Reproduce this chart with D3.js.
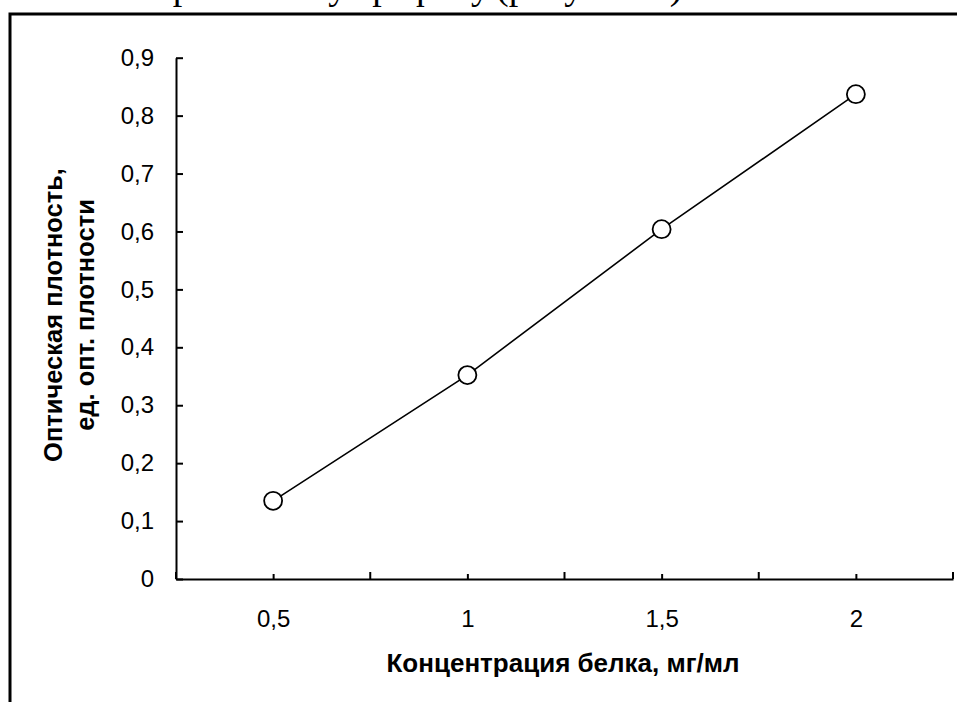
<!doctype html>
<html lang="ru">
  <head>
    <meta charset="utf-8">
    <script src="https://cdn.jsdelivr.net/npm/d3@7/dist/d3.min.js"></script>
    <style>
      body { margin:0; background:#fff; font-family: "Liberation Sans", Arial, sans-serif }
      svg { display:block }
    </style>
    <title>Калибровочная кривая</title>
  </head>
  <body>
    <script>
      // data
      const concentration = [0.5, 1, 1.5, 2];
      const density = [0.135, 0.352, 0.604, 0.837];
      const yTicks = [0, 0.1, 0.2, 0.3, 0.4, 0.5, 0.6, 0.7, 0.8, 0.9];
      const xTicks = [0.5, 1, 1.5, 2];
      const xBounds = [0.25, 0.75, 1.25, 1.75, 2.25];

      const W = 957, H = 702;
      const fmt = v => String(+v.toFixed(2)).replace(".", ",");

      let svg = d3.select("body").append("svg")
        .attr("width", W)
        .attr("height", H);

      // the document line above the frame, only its descenders are in view
      svg.append("text")
        .attr("x", 490)
        .attr("y", -1)
        .attr("text-anchor", "end")
        .attr("font-family", "'Liberation Serif', 'Times New Roman', serif")
        .attr("font-size", "38px")
        .text("по калибровочному графику");
      svg.append("text")
        .attr("x", 496)
        .attr("y", -1)
        .attr("font-family", "'Liberation Serif', 'Times New Roman', serif")
        .attr("font-size", "38px")
        .text("(рисунок 2).");

      // frame of the picture (right and bottom edges are outside)
      svg.append("path")
        .attr("d", "M10," + (H + 5) + " V14 H" + (W + 5))
        .attr("fill", "none")
        .attr("stroke", "black")
        .attr("stroke-width", 3);

      let x = d3.scaleLinear().domain([0.25, 2.25]).range([176, 953]);
      let y = d3.scaleLinear().domain([0, 0.9]).range([579, 57.7]);

      // y axis
      let yAxis = d3.axisLeft(y)
        .tickValues(yTicks)
        .tickSizeInner(-7)
        .tickSizeOuter(0)
        .tickPadding(22)
        .tickFormat(fmt);
      let gy = svg.append("g")
        .attr("transform", "translate(" + x(0.25) + ",0)")
        .call(yAxis);
      gy.select(".domain").attr("stroke-width", 2);
      gy.selectAll(".tick line").attr("stroke-width", 2);
      gy.selectAll("text")
        .attr("font-size", "24px")
        .attr("font-family", "'Liberation Sans', Arial, sans-serif");

      // x axis, labels under categories
      let xAxis = d3.axisBottom(x)
        .tickValues(xTicks)
        .tickSizeInner(-5)
        .tickSizeOuter(0)
        .tickPadding(31)
        .tickFormat(fmt);
      let gx = svg.append("g")
        .attr("transform", "translate(0," + y(0) + ")")
        .call(xAxis);
      gx.select(".domain").attr("stroke-width", 2);
      gx.selectAll(".tick line").attr("stroke-width", 2);
      gx.selectAll("text")
        .attr("font-size", "24px")
        .attr("font-family", "'Liberation Sans', Arial, sans-serif");

      // tick marks between categories
      svg.append("g")
        .selectAll("line")
        .data(xBounds)
        .enter()
        .append("line")
        .attr("x1", d => x(d))
        .attr("x2", d => x(d))
        .attr("y1", y(0))
        .attr("y2", y(0) - 7)
        .attr("stroke", "black")
        .attr("stroke-width", 2);

      // series line and markers
      let pts = concentration.map((c, i) => [c, density[i]]);
      svg.append("path")
        .datum(pts)
        .attr("fill", "none")
        .attr("stroke", "black")
        .attr("stroke-width", 1.6)
        .attr("d", d3.line().x(d => x(d[0])).y(d => y(d[1])));

      svg.selectAll("circle")
        .data(pts)
        .enter()
        .append("circle")
        .attr("cx", d => x(d[0]))
        .attr("cy", d => y(d[1]))
        .attr("r", 9)
        .attr("fill", "white")
        .attr("stroke", "black")
        .attr("stroke-width", 1.8);

      // axis titles
      svg.append("text")
        .attr("x", 563)
        .attr("y", 672)
        .attr("text-anchor", "middle")
        .attr("font-weight", "bold")
        .attr("font-size", "26px")
        .text("Концентрация белка, мг/мл");

      let yTitle = svg.append("text")
        .attr("transform", "translate(62,315) rotate(-90)")
        .attr("text-anchor", "middle")
        .attr("font-weight", "bold")
        .attr("font-size", "25.5px");
      yTitle.append("tspan")
        .attr("x", 0)
        .attr("y", 0)
        .text("Оптическая плотность,");
      yTitle.append("tspan")
        .attr("x", 0)
        .attr("y", 32)
        .text("ед. опт. плотности");
    </script>
  </body>
</html>
